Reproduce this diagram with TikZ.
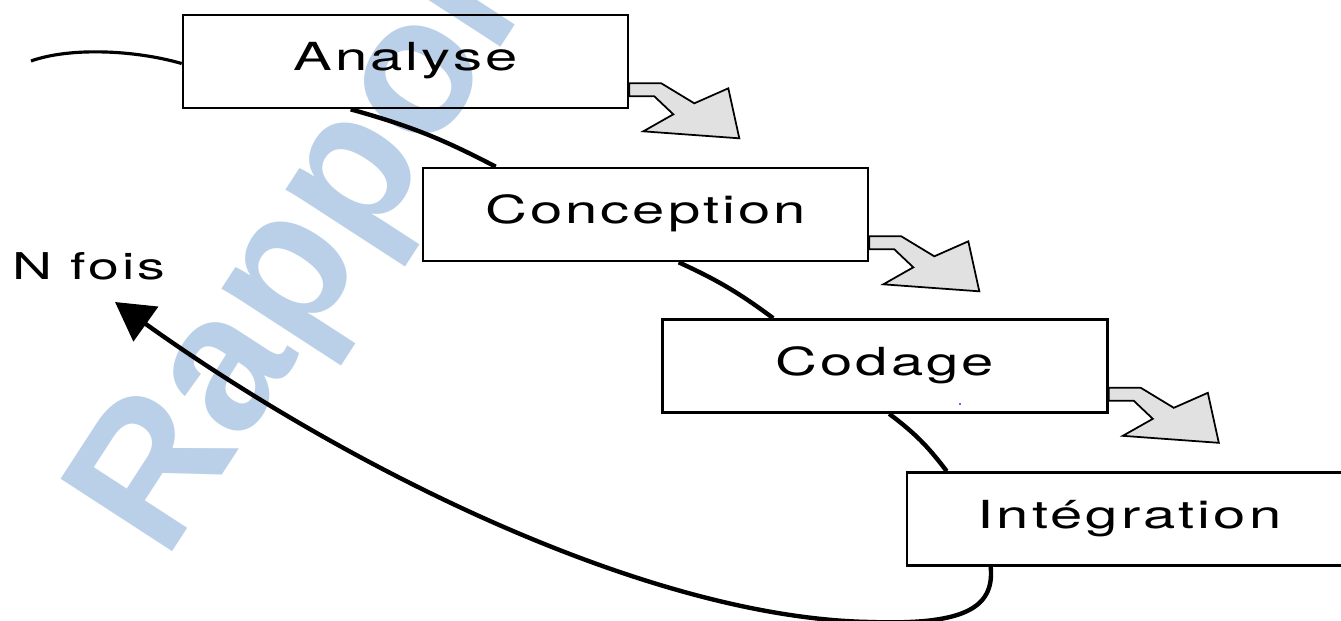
\documentclass[tikz,border=0pt]{standalone}
\usepackage{fontspec}
\usetikzlibrary{arrows.meta,calc}

\newfontfamily\labelfont{TeX Gyre Heros}[FakeStretch=1.5,LetterSpace=8]
\newfontfamily\markfont{Liberation Sans}
\definecolor{markblue}{RGB}{186,208,232}
\definecolor{arrowgrey}{RGB}{225,225,225}

\tikzset{
  phase/.style={draw=black, line width=0.75pt, minimum width=4.45cm, minimum height=0.93cm,
    inner sep=0pt, text height=0.75em, text depth=0.22em,
    font=\labelfont\fontsize{11}{13}\selectfont},
  flow/.style={draw=black, line width=1.25pt},
  blockarrow/.style={draw=black, line width=0.5pt, fill=arrowgrey, line join=miter},
}

% grey bent arrow leaving the lower right corner of a phase box
\newcommand\stagearrow[1]{%
  \draw[blockarrow, shift={(#1.south east)}]
    (0,0.26) -- (0.32,0.26) -- (0.65,0.06) -- (0.99,0.21) -- (1.10,-0.29)
    -- (0.14,-0.22) -- (0.44,-0.05) -- (0.25,0.13) -- (0,0.13) -- cycle;}

\begin{document}
\begin{tikzpicture}
\useasboundingbox (0,0) rectangle (13.41,-6.20);
\clip (0,0) rectangle (13.41,-6.20);

% watermark
\node[anchor=base west, inner sep=0pt, rotate=57, text=markblue,
      font=\markfont\bfseries\fontsize{55}{60}\selectfont] (mark) at (1.655,-5.63) {Rapport};

% phases
\node[phase] (ana)   at (4.055,-0.615) {Analyse};
\node[phase] (con)   at (6.455,-2.145) {Conception};
\node[phase] (cod)   at (8.85,-3.66)   {Codage};
\node[phase] (integ) at (11.295,-5.19) {Intégration};

\stagearrow{ana}
\stagearrow{con}
\stagearrow{cod}

% iteration label
\node[anchor=base west, inner sep=0pt, font=\labelfont\fontsize{10.5}{12}\selectfont]
  (nfois) at (0.12,-2.79) {N fois};

% flow through the phases
\coordinate (entry) at (0.31,-0.61);
\coordinate (loopend) at (1.15,-3.02);
\draw[flow, line width=0.9pt] (entry) .. controls (0.70,-0.47) and (1.35,-0.50) .. ([yshift=-0.02cm]ana.west);
\draw[flow] ($(ana.south west)+(1.69,0)$) to[bend left=6] ($(con.north west)+(0.74,0)$);
\draw[flow] ($(con.south west)+(2.57,0)$) to[bend left=6] ($(cod.north west)+(1.12,0)$);
\draw[flow] ($(cod.south west)+(2.28,0)$) to[bend left=8] ($(integ.north west)+(0.41,0)$);
\draw[flow, -{Triangle[length=3.8mm,width=4.2mm]}]
  ($(integ.south west)+(0.85,0)$) .. controls (9.95,-6.10) and (9.60,-6.25) .. (8.70,-6.22)
  .. controls (6.50,-6.18) and (3.50,-4.70) .. (loopend);

% small stray dot
\fill[blue!80] (9.6,-4.04) circle (0.012);
\end{tikzpicture}
\end{document}
